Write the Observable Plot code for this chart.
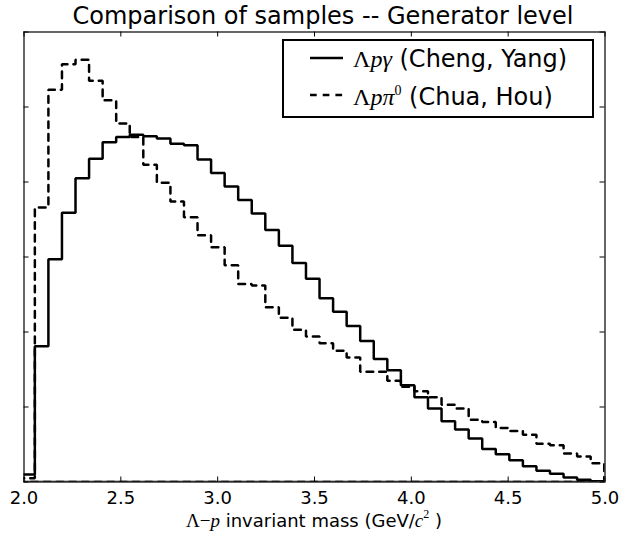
<!DOCTYPE html>
<html>
<head>
<meta charset="utf-8">
<script src="https://cdn.jsdelivr.net/npm/d3@7"></script>
<script src="https://cdn.jsdelivr.net/npm/@observablehq/plot@0.6"></script>
<style>
  html, body { margin: 0; padding: 0; background: #fff; }
  #wrap { position: relative; width: 619px; height: 537px; font-family: "DejaVu Sans", sans-serif; }
  #wrap svg.overlay { position: absolute; left: 0; top: 0; pointer-events: none; }
  #chart { position: absolute; left: 0; top: 0; }
</style>
</head>
<body>
<div id="wrap"><div id="chart"></div></div>
<script>
// Histogram bin edges (GeV/c^2), 43 bins
const binEdges = [1.986, 2.056, 2.126, 2.196, 2.266, 2.336, 2.406, 2.476, 2.546, 2.616,
  2.686, 2.756, 2.826, 2.896, 2.966, 3.036, 3.106, 3.176, 3.246, 3.316,
  3.386, 3.456, 3.526, 3.596, 3.666, 3.736, 3.806, 3.876, 3.946, 4.016,
  4.086, 4.156, 4.226, 4.296, 4.366, 4.436, 4.506, 4.576, 4.646, 4.716,
  4.786, 4.856, 4.926, 4.996];

// Λpγ (Cheng, Yang) — solid
const chengYang = [0.10, 1.81, 2.97, 3.59, 4.05, 4.31, 4.53, 4.60, 4.63, 4.61,
  4.58, 4.51, 4.49, 4.30, 4.12, 3.94, 3.76, 3.58, 3.36, 3.15,
  2.92, 2.71, 2.45, 2.27, 2.08, 1.88, 1.64, 1.49, 1.29, 1.13,
  0.98, 0.81, 0.70, 0.58, 0.44, 0.37, 0.29, 0.21, 0.15, 0.11,
  0.06, 0.03, 0.01];

// Λpπ0 (Chua, Hou) — dashed
const chuaHou = [0.05, 3.66, 5.23, 5.57, 5.63, 5.35, 5.09, 4.78, 4.60, 4.23,
  3.99, 3.74, 3.53, 3.29, 3.13, 2.89, 2.64, 2.62, 2.33, 2.19,
  2.03, 1.94, 1.85, 1.75, 1.66, 1.47, 1.47, 1.35, 1.27, 1.21,
  1.13, 1.03, 0.98, 0.83, 0.80, 0.72, 0.68, 0.63, 0.51, 0.49,
  0.38, 0.34, 0.25];

const xTicks = [2.0, 2.5, 3.0, 3.5, 4.0, 4.5, 5.0];
const yTicks = [0, 1, 2, 3, 4, 5, 6];

// closed step outline like matplotlib histtype="step"
function stepOutline(edges, vals) {
  const pts = [{x: edges[0], y: 0}];
  vals.forEach((v, i) => pts.push({x: edges[i], y: v}));
  pts.push({x: edges[vals.length], y: vals[vals.length - 1]});
  pts.push({x: edges[vals.length], y: 0});
  pts.push({x: edges[0], y: 0});
  return pts;
}

const W = 619, H = 537;
const mL = 23.5, mR = 14.5, mT = 31.5, mB = 55.5;
const frameW = W - mL - mR, frameH = H - mT - mB;
const tick = 5;

const chart = Plot.plot({
  width: W, height: H,
  marginLeft: mL, marginRight: mR, marginTop: mT, marginBottom: mB,
  style: {fontFamily: "DejaVu Sans", fontSize: "18px", color: "black", background: "white"},
  x: {domain: [2, 5]},
  y: {domain: [0, 6], axis: null},
  marks: [
    Plot.line(stepOutline(binEdges, chengYang), {x: "x", y: "y", curve: "step-after", stroke: "black", strokeWidth: 2.5, strokeLinejoin: "miter", clip: true}),
    Plot.line(stepOutline(binEdges, chuaHou), {x: "x", y: "y", curve: "step-after", stroke: "black", strokeWidth: 2.5, strokeDasharray: "6.7,6", strokeLinejoin: "miter", clip: true}),
    // inward ticks on all four sides
    Plot.ruleX(xTicks, {x: d => d, insetTop: frameH - tick, stroke: "black", strokeWidth: 1}),
    Plot.ruleX(xTicks, {x: d => d, insetBottom: frameH - tick, stroke: "black", strokeWidth: 1}),
    Plot.ruleY(yTicks, {y: d => d, insetRight: frameW - tick, stroke: "black", strokeWidth: 1}),
    Plot.ruleY(yTicks, {y: d => d, insetLeft: frameW - tick, stroke: "black", strokeWidth: 1}),
    Plot.frame({stroke: "black", strokeWidth: 1.2}),
    Plot.axisX({ticks: xTicks, tickSize: 0, tickPadding: 9, tickFormat: d3.format(".1f"), label: null, fontSize: 18})
  ]
});
document.getElementById("chart").appendChild(chart);

// title, legend, axis label overlay
const ns = "http://www.w3.org/2000/svg";
const ov = document.createElementNS(ns, "svg");
ov.setAttribute("class", "overlay");
ov.setAttribute("width", W);
ov.setAttribute("height", H);
ov.innerHTML = `
  <g font-family="DejaVu Sans" fill="black">
    <text x="323" y="24" text-anchor="middle" font-size="24">Comparison of samples -- Generator level</text>
    <text x="314" y="527" text-anchor="middle" font-size="18"><tspan font-family="Liberation Serif" font-size="19">Λ−<tspan font-style="italic">p</tspan></tspan> invariant mass (GeV/<tspan font-family="Liberation Serif" font-style="italic" font-size="19">c</tspan><tspan font-family="Liberation Serif" font-size="12" dy="-9">2</tspan><tspan dy="9"> )</tspan></text>
    <rect x="283" y="40" width="310" height="77" fill="white" stroke="black" stroke-width="2"/>
    <line x1="310" x2="343" y1="58" y2="58" stroke="black" stroke-width="2.5"/>
    <line x1="310" x2="343" y1="95" y2="95" stroke="black" stroke-width="2.5" stroke-dasharray="6.7,6"/>
    <text x="353" y="67" font-size="24"><tspan font-family="Liberation Serif">Λ<tspan font-style="italic">pγ</tspan></tspan> (Cheng, Yang)</text>
    <text x="353" y="105" font-size="24"><tspan font-family="Liberation Serif">Λ<tspan font-style="italic">pπ</tspan><tspan font-size="14" dy="-10">0</tspan></tspan><tspan dy="10">  (Chua, Hou)</tspan></text>
  </g>`;
document.getElementById("wrap").appendChild(ov);
</script>
</body>
</html>
